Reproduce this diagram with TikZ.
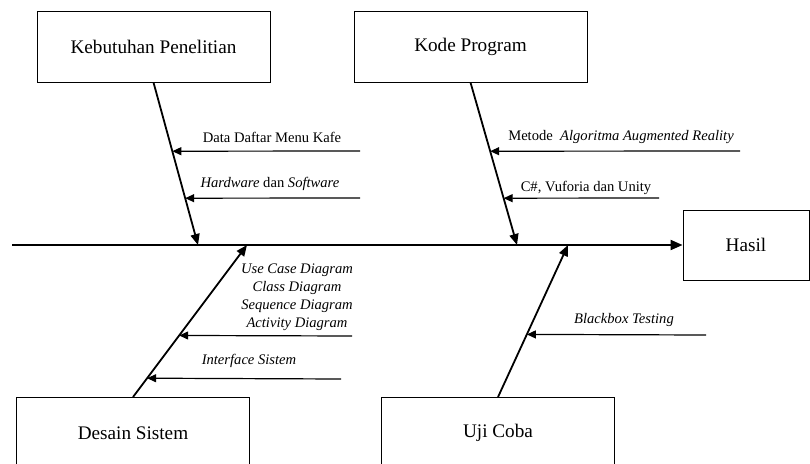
\documentclass[tikz,border=0pt]{standalone}
\usepackage{fontspec}
\setmainfont{Liberation Serif}
\usetikzlibrary{arrows.meta,calc,positioning}
\tikzset{
  causebox/.style={draw,line width=0.9pt,minimum width=233pt,minimum height=71pt,inner sep=0pt,font=\fontsize{19.2}{22}\selectfont},
  spine/.style={-{Triangle[length=12pt,width=10pt]},line width=2pt},
  bone/.style={-{Triangle[length=11pt,width=9pt]},line width=1.8pt},
  subarrow/.style={-{Triangle[length=9pt,width=8pt]},line width=1.2pt},
  cause/.style={font=\fontsize{14.6}{18}\selectfont,inner sep=0pt,align=center}
}

\begin{document}
\begin{tikzpicture}[x=1pt,y=-1pt]
  \useasboundingbox (0,0) rectangle (810,463);

  % main boxes
  \node[causebox] (kebutuhan) at (153.5,46.5) {Kebutuhan Penelitian};
  \node[causebox] (kode) at (470.5,46.5) {Kode Program};
  \node[causebox] (desain) at (133,433) {Desain Sistem};
  \node[causebox] (uji) at (498,433) {Uji Coba};
  \node[causebox,minimum width=126pt,minimum height=70pt] (hasil) at (746,245) {Hasil};

  % spine
  \coordinate (tail) at (12,245);
  \draw[spine] (tail) -- (hasil.west);

  % bones
  \coordinate (kebhead) at (198,245);
  \coordinate (kodehead) at (517,245);
  \coordinate (desainhead) at (247,245);
  \coordinate (ujihead) at (568,245);
  \draw[bone] (kebutuhan.south) -- (kebhead);
  \draw[bone] (kode.south) -- (kodehead);
  \draw[bone] (desain.north) -- (desainhead);
  \draw[bone] (uji.north) -- (ujihead);

  % points on the bones
  \coordinate (k1) at ($(kebutuhan.south)!0.423!(kebhead)$);
  \coordinate (k2) at ($(kebutuhan.south)!0.712!(kebhead)$);
  \coordinate (p1) at ($(kode.south)!0.423!(kodehead)$);
  \coordinate (p2) at ($(kode.south)!0.712!(kodehead)$);
  \coordinate (d1) at ($(desain.north)!0.405!(desainhead)$);
  \coordinate (d2) at ($(desain.north)!0.124!(desainhead)$);
  \coordinate (u1) at ($(uji.north)!0.412!(ujihead)$);

  % free ends
  \coordinate (k1src) at (360,151);
  \coordinate (k2src) at (360,198);
  \coordinate (p1src) at (740,151);
  \coordinate (p2src) at (659,198);
  \coordinate (d1src) at (352,336);
  \coordinate (d2src) at (341,379);
  \coordinate (u1src) at (706,335);

  \draw[subarrow] (k1src) -- (k1);
  \draw[subarrow] (k2src) -- (k2);
  \draw[subarrow] (p1src) -- (p1);
  \draw[subarrow] (p2src) -- (p2);
  \draw[subarrow] (d1src) -- (d1);
  \draw[subarrow] (d2src) -- (d2);
  \draw[subarrow] (u1src) -- (u1);

  % labels
  \node[cause] (menu) at (272,137) {Data Daftar Menu Kafe};
  \node[cause] (hwsw) at (270,184) {\textit{Hardware} dan \textit{Software}};
  \node[cause] (metode) at (621,137) {Metode\ \ \textit{Algoritma Augmented Reality}};
  \node[cause] (tools) at (586,188) {C\#, Vuforia dan Unity};
  \node[cause,font=\fontsize{14.6}{18}\selectfont\itshape] (uml) at (297,297) {Use Case Diagram\\Class Diagram\\Sequence Diagram\\Activity Diagram};
  \node[cause,font=\fontsize{14.6}{18}\selectfont\itshape] (interface) at (249,361) {Interface Sistem};
  \node[cause,font=\fontsize{14.6}{18}\selectfont\itshape] (blackbox) at (624,320) {Blackbox Testing};
\end{tikzpicture}
\end{document}
